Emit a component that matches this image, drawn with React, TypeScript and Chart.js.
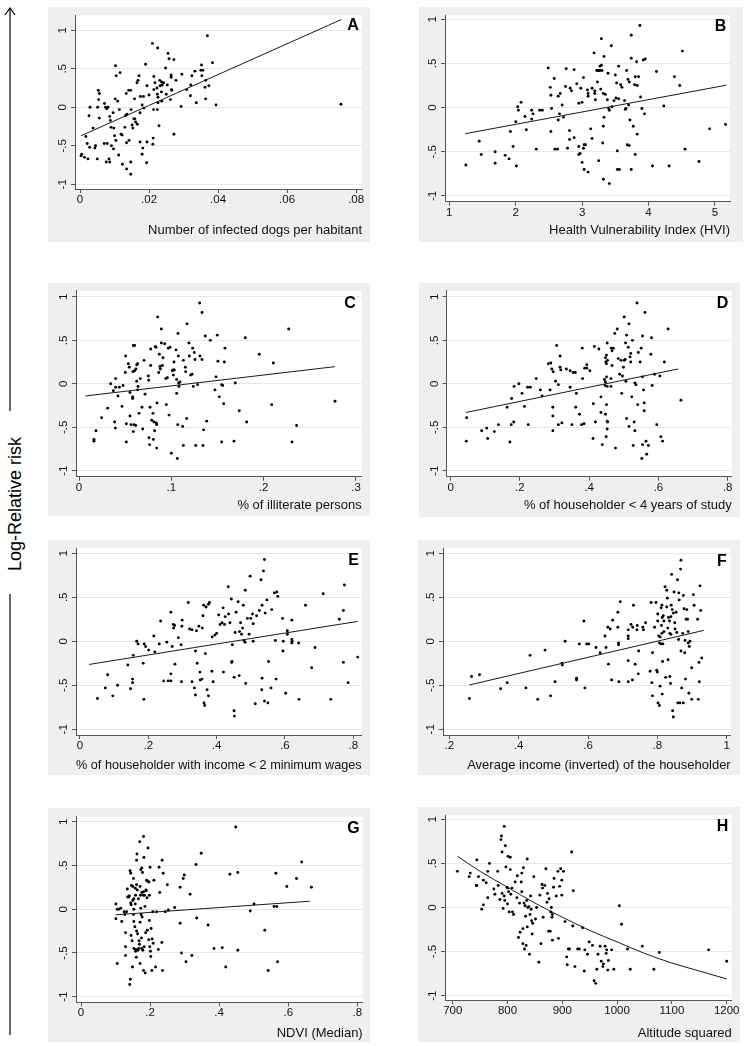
import React, { useEffect, useRef } from 'react';
import { Chart, registerables } from 'chart.js';

Chart.register(...registerables);

const FONT = "'Liberation Sans', Arial, Helvetica, sans-serif";

// ---------------- shared tick data ----------------
const yTickValues = [-1, -0.5, 0, 0.5, 1];
const yTickLabels = ['-1', '-.5', '0', '.5', '1'];

const aXTicks = [0, 0.02, 0.04, 0.06, 0.08];
const aXLabels = ['0', '.02', '.04', '.06', '.08'];
const bXTicks = [1, 2, 3, 4, 5];
const bXLabels = ['1', '2', '3', '4', '5'];
const cXTicks = [0, 0.1, 0.2, 0.3];
const cXLabels = ['0', '.1', '.2', '.3'];
const dXTicks = [0, 0.2, 0.4, 0.6, 0.8];
const dXLabels = ['0', '.2', '.4', '.6', '.8'];
const fXTicks = [0.2, 0.4, 0.6, 0.8, 1];
const fXLabels = ['.2', '.4', '.6', '.8', '1'];
const hXTicks = [700, 800, 900, 1000, 1100, 1200];
const hXLabels = ['700', '800', '900', '1000', '1100', '1200'];

// ---------------- panel A: infected dogs per habitant ----------------
const aX = [0.0369,0.021,0.0225,0.0255,0.0258,0.0272,0.019,0.0384,0.0103,0.0105,
  0.0116,0.0248,0.0264,0.0264,0.0295,0.0324,0.0333,0.0352,0.0356,0.035,
  0.0353,0.0364,0.0373,0.0362,0.0364,0.0394,0.0337,0.032,0.0321,0.0309,
  0.0278,0.0266,0.0262,0.0293,0.0272,0.0229,0.0213,0.0224,0.0212,0.0211,
  0.0193,0.0194,0.0182,0.018,0.0174,0.0135,0.0147,0.0147,0.0123,0.0112,
  0.0091,0.0104,0.0097,0.0084,0.0076,0.0086,0.007,0.0079,0.005,0.0045,
  0.0043,0.0028,0.0023,0.0021,0.0017,0.0013,0.0005,0.0003,0.0038,0.0026,
  0.0029,0.0051,0.0054,0.0053,0.0056,0.0056,0.0071,0.0074,0.0077,0.0081,
  0.0086,0.0088,0.009,0.0098,0.01,0.0096,0.0102,0.0109,0.0114,0.0119,
  0.0122,0.013,0.0132,0.0136,0.0135,0.0142,0.0134,0.0141,0.0147,0.0148,
  0.0151,0.0153,0.0156,0.0159,0.0161,0.0166,0.0158,0.0165,0.0168,0.0171,
  0.0175,0.0174,0.018,0.0185,0.0184,0.0194,0.02,0.0214,0.0214,0.0217,
  0.0223,0.0224,0.0226,0.0226,0.0231,0.0232,0.0238,0.0236,0.0242,0.0236,
  0.025,0.0237,0.0253,0.0265,0.0756];
const aY = [0.93,0.83,0.77,0.70,0.63,0.62,0.56,0.58,0.54,0.41,
  0.45,0.51,0.42,0.39,0.43,0.41,0.47,0.55,0.48,0.48,
  0.41,0.35,0.28,0.26,0.11,0.03,0.06,0.15,0.29,0.23,
  0.35,0.22,0.10,0.01,-0.35,-0.24,-0.03,-0.03,-0.40,-0.48,
  -0.72,-0.45,-0.53,-0.61,-0.45,-0.80,-0.87,-0.71,-0.74,-0.62,
  -0.50,-0.43,-0.54,-0.67,-0.71,-0.71,-0.47,-0.47,-0.67,-0.50,
  -0.53,-0.52,-0.67,-0.47,-0.38,-0.65,-0.61,-0.63,-0.27,-0.11,
  0.0,0.0,0.10,0.22,0.18,-0.14,0.05,0.0,-0.02,0.0,
  -0.12,-0.17,-0.26,-0.27,-0.37,-0.07,0.11,0.08,-0.03,-0.35,
  -0.36,-0.26,-0.11,-0.09,-0.46,-0.43,0.18,0.22,0.22,-0.03,
  -0.23,-0.27,-0.15,-0.15,-0.19,-0.22,0.11,0.32,0.35,0.41,
  0.14,-0.07,0.03,-0.01,0.14,0.28,0.16,0.40,0.23,0.32,
  0.25,0.17,0.13,0.06,0.35,0.28,0.29,0.33,0.32,0.20,
  0.17,0.08,0.29,0.23,0.04];
const aFitX = [0.0003, 0.0757];
const aFitY = [-0.37, 1.14];

// ---------------- panel B: HVI ----------------
const bX = [1.25,1.45,1.48,1.69,1.69,1.84,1.90,1.92,1.96,2.00,
  2.01,2.03,2.04,2.08,2.14,2.16,2.24,2.24,2.26,2.31,
  2.36,2.40,2.49,2.52,2.53,2.53,2.54,2.58,2.59,2.63,
  2.64,2.64,2.66,2.67,2.70,2.72,2.75,2.76,2.78,2.81,
  2.82,2.84,2.81,2.88,2.88,2.92,2.95,2.95,2.97,2.95,
  2.98,3.00,3.02,3.00,3.02,3.03,3.05,3.03,3.09,3.08,
  3.09,3.09,3.13,3.15,3.15,3.18,3.19,3.19,3.20,3.22,
  3.23,3.24,3.25,3.25,3.27,3.27,3.28,3.29,3.29,3.30,
  3.31,3.32,3.33,3.33,3.32,3.32,3.35,3.38,3.39,3.41,
  3.40,3.41,3.44,3.45,3.48,3.50,3.51,3.52,3.53,3.53,
  3.55,3.56,3.55,3.58,3.60,3.64,3.65,3.66,3.67,3.68,
  3.69,3.70,3.71,3.72,3.71,3.74,3.74,3.74,3.77,3.79,
  3.80,3.80,3.82,3.83,3.83,3.85,3.87,3.88,3.90,3.92,
  3.94,3.95,4.06,4.12,4.23,4.31,4.39,4.47,4.51,4.55,
  4.76,4.92,5.16];
const bY = [-0.65,-0.38,-0.53,-0.50,-0.63,-0.54,-0.58,-0.27,-0.44,-0.16,
  -0.66,0.01,-0.03,0.06,-0.10,-0.25,-0.03,-0.13,-0.07,-0.47,
  -0.03,-0.03,0.45,0.23,0.14,-0.27,-0.01,0.33,-0.47,-0.47,
  -0.14,0.13,-0.07,0.16,0.03,-0.11,0.24,0.44,-0.46,-0.26,
  0.22,0.19,-0.36,0.43,-0.34,0.27,-0.44,-0.53,-0.52,0.05,
  0.22,-0.62,0.34,0.06,-0.46,-0.42,-0.42,-0.70,-0.73,0.20,
  0.16,0.13,-0.24,0.22,-0.35,0.62,0.19,0.16,0.09,0.42,
  0.29,0.42,-0.60,0.42,0.42,0.47,0.21,0.48,0.78,0.42,
  -0.40,-0.21,-0.11,0.58,-0.81,0.16,0.15,0.09,0.39,-0.86,
  -0.01,-0.03,0.70,0.01,0.08,0.37,0.11,0.28,-0.49,-0.70,
  0.47,-0.70,0.10,0.26,0.23,0.08,-0.02,-0.01,0.42,-0.42,
  0.32,0.03,-0.43,-0.14,0.29,0.82,-0.70,0.56,-0.21,0.26,
  -0.53,0.35,0.52,-0.30,0.25,0.35,0.93,0.12,-0.01,0.54,
  -0.07,0.55,-0.66,0.41,0.02,-0.66,0.35,0.25,0.64,-0.47,
  -0.61,-0.24,-0.19];
const bFitX = [1.24, 5.17];
const bFitY = [-0.295, 0.254];

// ---------------- panel C: illiterate persons ----------------
const cX = [0.0162,0.0162,0.0184,0.0245,0.031,0.0343,0.0372,0.0397,0.0397,0.0386,
  0.0394,0.0422,0.0437,0.0466,0.0477,0.0505,0.0502,0.0513,0.0513,0.0534,
  0.0545,0.0552,0.0552,0.0563,0.0581,0.0581,0.0585,0.0588,0.0588,0.0603,
  0.0603,0.0596,0.0614,0.0617,0.0625,0.0625,0.0635,0.0635,0.0639,0.065,
  0.0664,0.0682,0.069,0.0704,0.0715,0.0755,0.0751,0.0758,0.0765,0.0769,
  0.0776,0.0776,0.0787,0.0801,0.0805,0.0812,0.0819,0.0827,0.0834,0.0838,
  0.0845,0.0841,0.0841,0.0852,0.0863,0.087,0.0877,0.0881,0.0892,0.0892,
  0.0903,0.091,0.0928,0.0939,0.0946,0.0957,0.0968,0.0975,0.0986,0.1,
  0.1011,0.1018,0.1022,0.1029,0.1032,0.1051,0.1058,0.1058,0.1065,0.1069,
  0.1072,0.1076,0.1079,0.1083,0.1094,0.1123,0.113,0.113,0.1152,0.1155,
  0.1166,0.117,0.1191,0.1195,0.1209,0.1224,0.1231,0.1238,0.1249,0.1256,
  0.1264,0.1285,0.1307,0.131,0.1332,0.1332,0.1343,0.135,0.1368,0.1383,
  0.1422,0.1473,0.1484,0.1498,0.1505,0.152,0.1545,0.1545,0.1556,0.1567,
  0.1574,0.1581,0.1679,0.1693,0.1736,0.1801,0.1816,0.1953,0.2087,0.2105,
  0.2271,0.2307,0.2357,0.2773];
const cY = [-0.64,-0.66,-0.54,-0.39,-0.28,0.0,-0.08,-0.04,0.06,-0.44,
  -0.51,-0.14,-0.04,-0.26,-0.02,0.32,0.13,-0.46,-0.67,0.23,
  0.19,-0.10,-0.37,-0.47,-0.15,-0.17,0.14,-0.55,0.44,0.44,
  0.15,-0.47,-0.48,0.17,0.03,0.22,0.23,-0.07,-0.03,-0.34,
  0.06,-0.27,-0.52,0.27,-0.12,0.04,0.09,-0.62,-0.70,-0.27,
  0.40,0.21,-0.42,-0.34,-0.64,-0.44,-0.54,0.43,0.42,-0.45,
  -0.22,-0.74,-0.47,0.77,0.13,0.34,0.20,0.17,0.63,0.47,
  0.21,0.30,0.46,0.06,-0.24,0.07,0.41,-0.36,0.42,-0.80,
  0.15,0.16,0.10,0.25,0.16,0.39,0.05,-0.11,-0.86,-0.47,
  0.58,0.32,0.01,-0.03,0.02,-0.49,0.27,-0.71,0.19,0.14,
  -0.40,0.69,0.47,0.32,0.10,0.11,0.41,-0.03,0.36,0.28,
  -0.71,-0.01,0.93,0.32,0.82,0.28,-0.71,-0.53,0.55,-0.43,
  0.50,-0.07,0.08,0.56,0.26,-0.15,-0.67,-0.01,-0.02,-0.23,
  0.25,0.41,-0.66,0.01,-0.31,0.53,-0.44,0.34,-0.24,0.24,
  0.63,-0.67,-0.48,-0.20];
const cFitX = [0.007, 0.277];
const cFitY = [-0.14, 0.197];

// ---------------- panel D: householder < 4 years of study ----------------
const dX = [0.046,0.045,0.0895,0.104,0.107,0.126,0.138,0.163,0.171,0.176,
  0.175,0.182,0.183,0.197,0.206,0.213,0.222,0.224,0.23,0.247,
  0.259,0.264,0.282,0.289,0.287,0.292,0.295,0.295,0.295,0.296,
  0.303,0.306,0.311,0.311,0.316,0.316,0.318,0.321,0.334,0.345,
  0.345,0.35,0.354,0.36,0.361,0.363,0.372,0.378,0.381,0.38,
  0.385,0.387,0.393,0.393,0.402,0.411,0.412,0.415,0.418,0.428,
  0.434,0.434,0.438,0.444,0.446,0.447,0.447,0.447,0.448,0.449,
  0.45,0.45,0.452,0.45,0.452,0.453,0.452,0.45,0.452,0.453,
  0.463,0.463,0.464,0.466,0.466,0.47,0.474,0.476,0.481,0.484,
  0.488,0.492,0.494,0.496,0.499,0.501,0.501,0.505,0.504,0.506,
  0.508,0.508,0.513,0.515,0.515,0.518,0.52,0.52,0.523,0.525,
  0.527,0.53,0.532,0.532,0.535,0.54,0.538,0.542,0.547,0.55,
  0.552,0.554,0.554,0.554,0.557,0.559,0.559,0.561,0.564,0.566,
  0.571,0.578,0.58,0.582,0.589,0.595,0.604,0.607,0.612,0.617,
  0.628,0.665];
const dY = [-0.39,-0.66,-0.54,-0.51,-0.63,-0.55,-0.47,-0.27,-0.67,-0.17,
  -0.47,-0.44,-0.03,0.0,-0.11,-0.26,-0.04,-0.47,-0.04,0.06,
  -0.07,-0.14,0.23,0.24,-0.07,0.17,-0.27,-0.37,-0.54,0.14,
  0.03,0.44,-0.01,-0.47,0.32,0.19,0.16,-0.45,0.17,-0.04,
  0.15,-0.47,0.13,0.13,-0.27,-0.11,-0.35,-0.47,0.06,0.41,
  -0.46,0.18,0.22,0.18,0.15,-0.63,-0.23,0.43,-0.44,0.40,
  -0.33,-0.15,-0.70,0.05,-0.02,0.02,-0.35,0.30,0.25,-0.61,
  0.33,0.23,0.47,-0.24,-0.43,-0.44,-0.52,0.08,-0.03,0.27,
  0.06,-0.03,0.41,0.38,0.21,0.41,0.58,-0.74,0.63,0.29,
  0.11,0.27,-0.11,0.09,0.19,0.27,0.77,0.47,0.28,0.03,
  0.56,-0.40,0.42,0.69,-0.49,0.31,0.35,0.25,-0.15,0.50,
  -0.71,-0.44,-0.54,0.01,-0.01,-0.24,0.93,0.36,0.25,0.41,
  -0.86,0.55,0.08,-0.70,-0.07,-0.31,-0.22,0.82,-0.66,-0.81,
  -0.71,0.34,0.53,-0.02,0.11,-0.47,0.09,-0.61,-0.66,0.25,
  0.63,-0.19];
const dFitX = [0.044, 0.657];
const dFitY = [-0.33, 0.171];

// ---------------- panel E: income < 2 minimum wages ----------------
const eX = [0.051,0.074,0.081,0.096,0.11,0.14,0.148,0.154,0.154,0.156,
  0.166,0.17,0.185,0.187,0.188,0.192,0.201,0.216,0.219,0.232,
  0.236,0.245,0.254,0.258,0.266,0.266,0.266,0.27,0.273,0.274,
  0.277,0.278,0.288,0.296,0.298,0.299,0.297,0.317,0.321,0.328,
  0.328,0.335,0.338,0.338,0.341,0.343,0.348,0.351,0.352,0.357,
  0.358,0.36,0.362,0.363,0.365,0.367,0.369,0.372,0.376,0.376,
  0.379,0.386,0.387,0.39,0.395,0.4,0.406,0.41,0.416,0.419,
  0.42,0.423,0.425,0.434,0.435,0.439,0.443,0.444,0.445,0.446,
  0.451,0.451,0.452,0.454,0.457,0.463,0.466,0.467,0.47,0.473,
  0.476,0.478,0.48,0.483,0.484,0.485,0.49,0.495,0.498,0.5,
  0.505,0.507,0.507,0.513,0.517,0.525,0.53,0.532,0.533,0.533,
  0.537,0.54,0.54,0.542,0.547,0.55,0.552,0.559,0.561,0.569,
  0.572,0.574,0.576,0.579,0.593,0.594,0.595,0.602,0.607,0.607,
  0.62,0.62,0.62,0.621,0.64,0.641,0.66,0.678,0.688,0.712,
  0.734,0.759,0.771,0.774,0.771,0.785,0.813];
const eY = [-0.65,-0.53,-0.38,-0.62,-0.50,-0.27,-0.54,-0.43,-0.47,-0.16,
  0.0,-0.03,-0.25,-0.66,-0.03,-0.06,-0.10,0.06,-0.12,-0.03,
  0.23,-0.45,-0.01,-0.45,-0.37,0.33,-0.45,-0.06,0.19,0.15,
  0.18,-0.26,0.04,-0.04,0.17,0.24,-0.46,0.44,0.14,0.13,
  -0.46,-0.53,-0.61,-0.11,0.12,-0.25,0.17,-0.35,-0.44,-0.43,
  0.15,0.29,0.41,-0.70,-0.73,-0.14,0.39,-0.55,-0.62,0.42,
  0.44,-0.34,0.05,-0.46,0.07,0.09,0.30,0.19,0.21,0.38,
  -0.35,0.19,0.28,0.62,0.31,0.21,0.48,-0.24,-0.23,-0.04,
  -0.41,-0.79,-0.85,0.10,0.33,0.45,-0.39,0.11,0.21,0.08,
  0.15,0.41,0.01,-0.01,0.58,-0.48,0.26,0.08,0.74,0.26,
  0.31,0.20,0.0,-0.71,0.29,0.35,0.70,-0.55,0.41,-0.42,
  0.80,-0.68,0.93,0.32,0.47,-0.70,-0.23,-0.53,0.36,0.55,
  0.01,-0.43,0.56,0.51,0.26,-0.11,0.0,-0.59,0.12,0.08,
  0.24,-0.02,0.02,0.0,-0.02,-0.66,0.41,-0.30,-0.07,0.54,
  -0.66,0.25,0.35,0.64,-0.24,-0.47,-0.18];
const eFitX = [0.027, 0.813];
const eFitY = [-0.263, 0.226];

// ---------------- panel F: average income (inverted) ----------------
const fX = [0.258,0.264,0.287,0.348,0.367,0.421,0.433,0.455,0.476,0.492,
  0.505,0.525,0.526,0.534,0.567,0.567,0.575,0.588,0.591,0.596,
  0.602,0.623,0.635,0.649,0.652,0.657,0.659,0.664,0.668,0.671,
  0.686,0.686,0.688,0.688,0.689,0.693,0.716,0.716,0.716,0.716,
  0.716,0.724,0.728,0.729,0.731,0.736,0.741,0.742,0.745,0.746,
  0.758,0.76,0.766,0.779,0.782,0.784,0.786,0.786,0.792,0.796,
  0.798,0.8,0.801,0.801,0.802,0.804,0.806,0.806,0.808,0.808,
  0.811,0.811,0.812,0.813,0.813,0.814,0.814,0.815,0.816,0.817,
  0.819,0.819,0.822,0.824,0.827,0.827,0.829,0.83,0.831,0.832,
  0.835,0.836,0.836,0.838,0.839,0.839,0.84,0.841,0.843,0.844,
  0.846,0.846,0.848,0.85,0.851,0.854,0.856,0.858,0.859,0.861,
  0.862,0.863,0.865,0.867,0.868,0.868,0.87,0.873,0.875,0.875,
  0.877,0.879,0.88,0.881,0.883,0.885,0.887,0.889,0.889,0.891,
  0.892,0.894,0.899,0.899,0.904,0.906,0.916,0.918,0.92,0.921,
  0.923,0.925,0.928];
const fY = [-0.65,-0.40,-0.38,-0.54,-0.47,-0.53,-0.16,-0.66,-0.10,-0.62,
  -0.46,-0.25,-0.27,0.0,-0.42,-0.44,-0.03,0.23,-0.53,-0.03,
  -0.03,-0.07,-0.13,0.06,-0.07,0.16,-0.26,0.14,-0.44,0.24,
  0.33,0.16,-0.02,-0.04,-0.46,0.45,0.13,0.06,0.03,-0.22,
  -0.46,0.19,-0.44,0.16,0.41,-0.26,0.13,0.18,-0.37,-0.11,
  0.16,0.13,0.21,-0.34,0.44,-0.47,-0.13,-0.62,0.16,0.44,
  -0.33,-0.35,0.31,0.23,-0.70,0.06,-0.02,-0.73,-0.51,0.05,
  0.38,-0.03,0.18,0.41,0.09,-0.60,0.27,-0.23,-0.03,0.29,
  0.23,0.11,0.62,-0.41,0.39,0.58,0.49,0.15,-0.21,0.27,
  0.23,0.09,-0.40,-0.48,0.08,0.28,0.41,0.76,0.36,-0.79,
  -0.86,0.32,0.56,0.21,0.14,0.33,0.10,0.70,-0.70,0.02,
  0.55,0.47,-0.70,0.82,0.92,-0.11,-0.53,0.09,0.52,-0.70,
  0.37,-0.13,0.01,-0.43,0.25,0.36,0.25,0.11,-0.02,-0.59,
  -0.06,0.0,-0.30,-0.66,0.53,0.41,0.25,-0.66,-0.24,-0.46,
  0.63,0.35,-0.19];
const fFitX = [0.258, 0.934];
const fFitY = [-0.496, 0.124];

// ---------------- panel G: NDVI (median) ----------------
const gX = [0.101,0.101,0.105,0.105,0.109,0.115,0.118,0.125,0.127,0.129,
  0.129,0.129,0.132,0.134,0.135,0.138,0.14,0.141,0.142,0.143,
  0.144,0.144,0.145,0.145,0.146,0.148,0.149,0.15,0.15,0.152,
  0.152,0.153,0.153,0.153,0.153,0.156,0.157,0.157,0.158,0.158,
  0.159,0.16,0.161,0.161,0.161,0.162,0.163,0.164,0.165,0.166,
  0.167,0.168,0.169,0.17,0.171,0.171,0.171,0.172,0.173,0.173,
  0.174,0.175,0.176,0.176,0.176,0.177,0.178,0.179,0.18,0.181,
  0.181,0.181,0.182,0.183,0.184,0.185,0.186,0.187,0.188,0.189,
  0.19,0.191,0.192,0.193,0.194,0.196,0.197,0.198,0.198,0.199,
  0.2,0.201,0.202,0.203,0.205,0.206,0.208,0.209,0.211,0.216,
  0.219,0.224,0.226,0.228,0.234,0.235,0.238,0.236,0.244,0.25,
  0.253,0.271,0.287,0.287,0.291,0.296,0.299,0.304,0.316,0.321,
  0.333,0.335,0.348,0.368,0.385,0.409,0.419,0.431,0.448,0.454,
  0.454,0.49,0.501,0.532,0.559,0.564,0.569,0.567,0.542,0.596,
  0.624,0.639,0.667];
const gY = [0.06,-0.11,0.0,-0.62,0.0,0.01,-0.14,-0.03,-0.06,-0.27,
  -0.43,-0.53,-0.03,0.23,0.14,0.14,0.15,-0.86,0.44,-0.80,
  0.41,0.07,0.05,-0.30,0.27,-0.36,-0.66,0.26,0.10,-0.06,
  0.35,0.12,0.0,-0.14,-0.45,-0.20,0.24,0.06,-0.48,0.16,
  -0.46,-0.55,0.56,0.28,-0.25,0.63,0.22,-0.28,-0.47,0.12,
  -0.45,-0.36,-0.40,0.77,0.26,-0.15,-0.62,0.16,0.01,0.45,
  -0.06,-0.33,0.47,0.19,-0.45,-0.09,0.42,-0.47,0.16,0.83,
  -0.70,0.20,0.59,-0.43,0.16,0.03,-0.73,-0.27,0.22,0.21,
  0.33,0.13,-0.24,0.32,0.70,-0.35,0.31,0.16,-0.13,-0.43,
  0.48,-0.48,-0.54,-0.22,-0.70,-0.34,-0.03,-0.39,0.33,-0.66,
  -0.03,-0.46,0.48,0.19,-0.38,0.56,0.41,-0.70,-0.03,0.28,
  -0.01,0.02,-0.16,0.25,-0.50,0.35,0.39,-0.60,0.17,-0.53,
  0.51,-0.10,0.64,-0.18,-0.45,-0.44,-0.66,0.40,0.94,-0.47,
  0.42,-0.02,0.06,-0.24,0.03,0.41,-0.60,0.03,-0.70,0.26,
  0.35,0.54,0.25];
const gFitX = [0.1005, 0.662];
const gFitY = [-0.064, 0.091];

// ---------------- panel H: altitude squared ----------------
const hX = [708.5,730,732,743,744,744,747,753,756,756,
  761,764,764,767,775,777,782,783,786,788,
  789,790,790,792,794,794,795,796,797,799,
  800,800,801,802,803,805,805,806,808,809,
  811,814,817,818,820,822,823,825,826,826,
  828,828,829,830,831,832,833,834,835,836,
  836,837,839,840,841,842,843,844,845,846,
  848,851,853,857,859,861,863,864,865,868,
  870,872,873,875,876,878,879,880,881,882,
  882,884,885,889,892,893,895,897,899,899,
  902,905,908,909,911,913,917,919,920,923,
  928,931,937,940,941,946,949,955,958,961,
  963,965,969,971,974,975,978,980,981,983,
  984,990,994,1004,1008,1019,1024,1046,1067,1077,
  1167,1200];
const hY = [0.41,0.35,0.39,0.25,0.25,0.54,0.35,-0.02,0.03,0.31,
  0.28,0.41,0.11,0.50,0.21,0.15,0.41,0.25,0.09,0.77,
  0.81,0.63,0.16,-0.01,0.92,0.13,0.08,0.70,0.46,0.23,
  0.22,0.04,0.58,0.18,-0.05,0.43,0.57,0.15,0.22,-0.05,
  -0.08,0.29,0.11,0.36,-0.34,0.05,-0.28,0.29,0.39,0.18,
  -0.24,-0.41,0.45,0.05,-0.47,0.02,-0.10,-0.43,0.08,0.55,
  -0.22,0.0,0.01,-0.53,-0.08,0.13,-0.02,-0.15,-0.30,-0.18,
  0.35,-0.13,0.0,-0.62,0.14,-0.41,0.26,0.22,-0.11,0.25,
  0.44,0.06,0.16,-0.27,0.10,-0.27,-0.05,0.0,-0.11,-0.08,
  -0.37,0.23,0.33,0.13,0.41,-0.35,0.24,0.44,0.31,0.14,
  0.41,-0.16,-0.56,-0.65,-0.47,-0.47,0.63,-0.21,0.19,-0.67,
  -0.47,-0.47,-0.23,-0.72,-0.48,-0.53,-0.39,-0.43,-0.83,-0.86,
  -0.70,-0.53,-0.44,-0.61,-0.67,-0.64,-0.44,-0.52,-0.48,-0.71,
  -0.60,-0.48,-0.70,0.02,-0.19,-0.47,-0.70,-0.44,-0.70,-0.51,
  -0.48,-0.61];
const hFitX = [709, 750, 800, 850, 900, 950, 1000, 1050, 1100, 1150, 1200];
const hFitY = [0.58, 0.41, 0.23, 0.05, -0.11, -0.26, -0.39, -0.52, -0.63, -0.72, -0.81];

// ---------------- layout (page pixel positions) ----------------
type PanelCfg = {
  letter: string;
  title: string;
  xs: number[]; ys: number[];
  fitX: number[]; fitY: number[];
  xTicks: number[]; xLabels: string[];
  xMin: number; xMax: number; yMin: number; yMax: number;
  box: [number, number, number, number];
  axisX: number; top: number; right: number; axisY: number;
  titleY: number;
  letterPos: [number, number];
  smooth?: boolean;
};

const panels: PanelCfg[] = [
  { letter: 'A', title: 'Number of infected dogs per habitant', xs: aX, ys: aY, fitX: aFitX, fitY: aFitY,
    xTicks: aXTicks, xLabels: aXLabels, xMin: -0.00145, xMax: 0.0817, yMin: -1.061, yMax: 1.199,
    box: [48, 7, 370, 242], axisX: 75, top: 15, right: 362, axisY: 189, titleY: 230, letterPos: [353, 24] },
  { letter: 'B', title: 'Health Vulnerability Index (HVI)', xs: bX, ys: bY, fitX: bFitX, fitY: bFitY,
    xTicks: bXTicks, xLabels: bXLabels, xMin: 0.935, xMax: 5.227, yMin: -1.065, yMax: 1.049,
    box: [419, 7, 743, 242], axisX: 445, top: 15, right: 730, axisY: 201.7, titleY: 230, letterPos: [720.5, 25] },
  { letter: 'C', title: '% of illiterate persons', xs: cX, ys: cY, fitX: cFitX, fitY: cFitY,
    xTicks: cXTicks, xLabels: cXLabels, xMin: -0.00325, xMax: 0.3062, yMin: -1.069, yMax: 1.069,
    box: [48, 283, 370, 516], axisX: 76, top: 290, right: 361.7, axisY: 476.7, titleY: 505, letterPos: [350, 302.5] },
  { letter: 'D', title: '% of householder < 4 years of study', xs: dX, ys: dY, fitX: dFitX, fitY: dFitY,
    xTicks: dXTicks, xLabels: dXLabels, xMin: -0.01155, xMax: 0.8116, yMin: -1.069, yMax: 1.069,
    box: [419, 283, 740, 517], axisX: 446.7, top: 290, right: 731.7, axisY: 476.7, titleY: 505, letterPos: [722.5, 302] },
  { letter: 'E', title: '% of householder with income < 2 minimum wages', xs: eX, ys: eY, fitX: eFitX, fitY: eFitY,
    xTicks: dXTicks, xLabels: dXLabels, xMin: -0.0117, xMax: 0.8246, yMin: -1.065, yMax: 1.06,
    box: [48, 540, 370, 775], axisX: 76, top: 548, right: 361.7, axisY: 735, titleY: 765, letterPos: [353.5, 559] },
  { letter: 'F', title: 'Average income (inverted) of the householder', xs: fX, ys: fY, fitX: fFitX, fitY: fFitY,
    xTicks: fXTicks, xLabels: fXLabels, xMin: 0.1818, xMax: 1.0115, yMin: -1.065, yMax: 1.06,
    box: [418, 540, 740, 775], axisX: 443, top: 548, right: 730.7, axisY: 735, titleY: 765, letterPos: [722, 560.5] },
  { letter: 'G', title: 'NDVI (Median)', xs: gX, ys: gY, fitX: gFitX, fitY: gFitY,
    xTicks: dXTicks, xLabels: dXLabels, xMin: -0.0145, xMax: 0.8156, yMin: -1.064, yMax: 1.057,
    box: [48, 808, 370, 1042], axisX: 76, top: 816.7, right: 362.7, axisY: 1002.3, titleY: 1033.3, letterPos: [353.5, 827.5] },
  { letter: 'H', title: 'Altitude squared', xs: hX, ys: hY, fitX: hFitX, fitY: hFitY,
    xTicks: hXTicks, xLabels: hXLabels, xMin: 685.9, xMax: 1209.1, yMin: -1.049, yMax: 1.049,
    box: [418, 807, 740, 1042], axisX: 445, top: 815, right: 731.7, axisY: 1000, titleY: 1033.3, letterPos: [722.5, 825], smooth: true },
];

const PANEL_BG = '#efefef';
const GRID = '#e2e9e9';
const AXIS = '#555';
const TEXT = '#111';
const TICK_FONT = 11.5;
const TITLE_FONT = 13;

function Panel({ p }: { p: PanelCfg }) {
  const ref = useRef<HTMLCanvasElement | null>(null);
  const [L, T, R, B] = p.box;
  const W = R - L;
  const H = B - T;

  useEffect(() => {
    if (!ref.current) return;
    const n = Math.min(p.xs.length, p.ys.length);
    const pts = p.xs.slice(0, n).map((x, i) => ({ x, y: p.ys[i] }));
    const fit = p.fitX.map((x, i) => ({ x, y: p.fitY[i] }));
    const yAxisW = p.axisX - L;
    const xAxisH = B - p.axisY;
    const titlePad = Math.max(0, B - p.titleY - (TITLE_FONT * 1.2) / 2);

    const bgPlugin = {
      id: 'panelBg',
      beforeDraw(chart: any) {
        const { ctx, width, height, chartArea } = chart;
        ctx.save();
        ctx.fillStyle = PANEL_BG;
        ctx.fillRect(0, 0, width, height);
        ctx.fillStyle = '#ffffff';
        ctx.fillRect(chartArea.left, chartArea.top, chartArea.right - chartArea.left, chartArea.bottom - chartArea.top);
        ctx.restore();
      },
    };
    const letterPlugin = {
      id: 'panelLetter',
      afterDraw(chart: any) {
        const ctx = chart.ctx;
        ctx.save();
        ctx.font = `bold 16px ${FONT}`;
        ctx.fillStyle = '#000';
        ctx.textAlign = 'center';
        ctx.textBaseline = 'alphabetic';
        ctx.fillText(p.letter, p.letterPos[0] - L, p.letterPos[1] - T + 5.7);
        ctx.restore();
      },
    };

    const chart = new Chart(ref.current, {
      type: 'scatter',
      data: {
        datasets: [
          {
            data: pts,
            pointRadius: 1.45,
            pointHoverRadius: 1.45,
            pointBackgroundColor: '#000',
            pointBorderColor: '#000',
            pointBorderWidth: 0,
            showLine: false,
            order: 2,
          },
          {
            data: fit,
            showLine: true,
            pointRadius: 0,
            pointHoverRadius: 0,
            borderColor: '#1a1a1a',
            borderWidth: 1,
            fill: false,
            cubicInterpolationMode: p.smooth ? 'monotone' : 'default',
            order: 1,
          } as any,
        ],
      },
      options: {
        responsive: false,
        animation: false,
        devicePixelRatio: 1,
        events: [],
        layout: { padding: { left: 0, top: p.top - T, right: R - p.right, bottom: 0 } },
        plugins: {
          legend: { display: false },
          tooltip: { enabled: false },
          title: { display: false },
        },
        scales: {
          x: {
            type: 'linear',
            position: 'bottom',
            min: p.xMin,
            max: p.xMax,
            afterBuildTicks: (s: any) => { s.ticks = p.xTicks.map((v) => ({ value: v })); },
            afterFit: (s: any) => { s.height = xAxisH; },
            ticks: {
              autoSkip: false,
              minRotation: 0,
              maxRotation: 0,
              padding: 0,
              color: TEXT,
              font: { family: FONT, size: TICK_FONT },
              callback: (v: any) => {
                const i = p.xTicks.indexOf(Number(v));
                return i >= 0 ? p.xLabels[i] : '';
              },
            },
            grid: { drawOnChartArea: false, drawTicks: true, tickLength: 4, tickColor: AXIS, tickWidth: 1 },
            border: { display: true, color: AXIS, width: 1 },
            title: {
              display: true,
              text: p.title,
              align: 'end',
              color: TEXT,
              font: { family: FONT, size: TITLE_FONT },
              padding: { top: 0, bottom: titlePad },
            },
          },
          y: {
            type: 'linear',
            position: 'left',
            min: p.yMin,
            max: p.yMax,
            afterBuildTicks: (s: any) => { s.ticks = yTickValues.map((v) => ({ value: v })); },
            afterFit: (s: any) => { s.width = yAxisW; },
            ticks: {
              autoSkip: false,
              minRotation: 90,
              maxRotation: 90,
              crossAlign: 'center',
              padding: 1,
              color: TEXT,
              font: { family: FONT, size: TICK_FONT },
              callback: (v: any) => {
                const i = yTickValues.indexOf(Number(v));
                return i >= 0 ? yTickLabels[i] : '';
              },
            },
            grid: { drawOnChartArea: true, color: GRID, lineWidth: 1, drawTicks: true, tickLength: 4, tickColor: AXIS, tickWidth: 1 },
            border: { display: true, color: AXIS, width: 1 },
          },
        },
      } as any,
      plugins: [bgPlugin, letterPlugin],
    });
    return () => chart.destroy();
  }, [p]);

  return (
    <canvas
      ref={ref}
      width={W}
      height={H}
      style={{ position: 'absolute', left: L, top: T, width: W, height: H }}
    />
  );
}

export default function App() {
  return (
    <div
      style={{
        position: 'absolute',
        left: 0,
        top: 0,
        width: 745,
        height: 1046,
        background: '#ffffff',
        overflow: 'hidden',
        fontFamily: FONT,
      }}
    >
      <svg width={30} height={1046} style={{ position: 'absolute', left: 0, top: 0 }}>
        <line x1={10} y1={8} x2={10} y2={411} stroke="#000" strokeWidth={1.2} />
        <polyline points="5,15 10,8 15,15" fill="none" stroke="#000" strokeWidth={1.2} />
        <line x1={10} y1={594} x2={10} y2={1035} stroke="#000" strokeWidth={1.2} />
      </svg>
      <div
        style={{
          position: 'absolute',
          left: 15 - 100,
          top: 503.5 - 12,
          width: 200,
          height: 24,
          lineHeight: '24px',
          fontSize: 18,
          textAlign: 'center',
          color: '#000',
          whiteSpace: 'nowrap',
          transform: 'rotate(-90deg)',
        }}
      >
        Log-Relative risk
      </div>
      {panels.map((p) => (
        <Panel key={p.letter} p={p} />
      ))}
    </div>
  );
}
